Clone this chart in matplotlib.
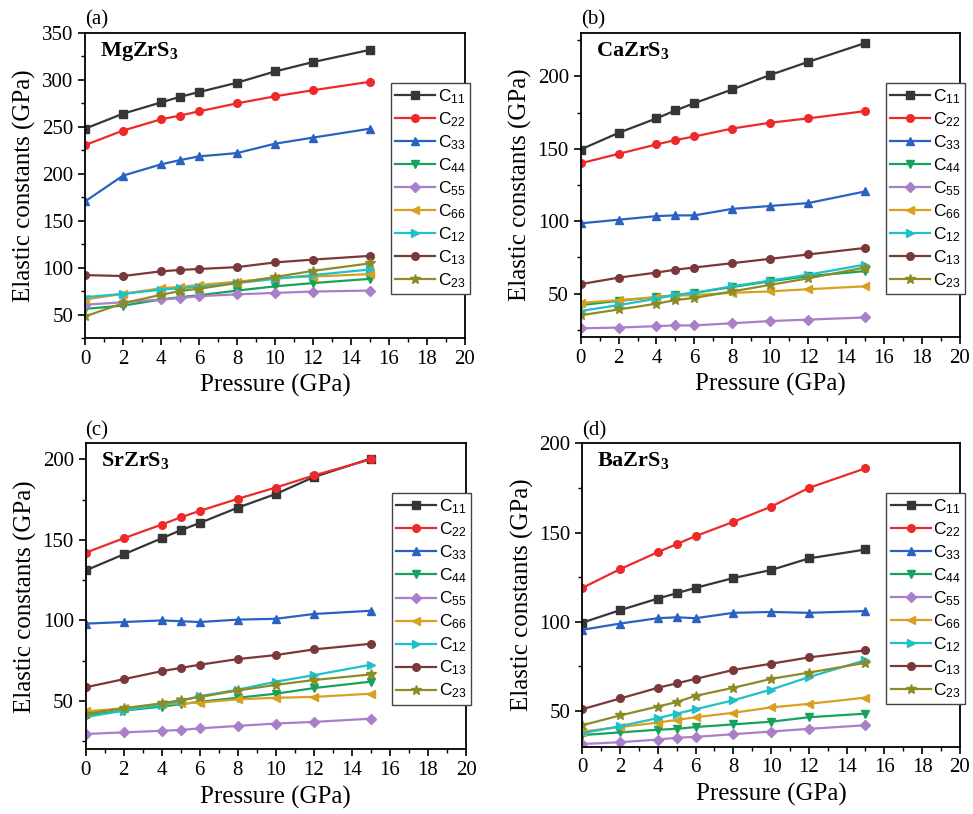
import numpy as np
import matplotlib
matplotlib.use("Agg")
import matplotlib.pyplot as plt
from matplotlib.ticker import MultipleLocator

plt.rcParams['font.family'] = ['Liberation Serif', 'DejaVu Serif']
plt.rcParams['mathtext.fontset'] = 'custom'
plt.rcParams['mathtext.rm'] = 'Liberation Sans'
plt.rcParams['mathtext.it'] = 'Liberation Sans:italic'
plt.rcParams['mathtext.bf'] = 'Liberation Serif:bold'

pressure = [0, 2, 4, 5, 6, 8, 10, 12, 15]
labels = ['C11', 'C22', 'C33', 'C44', 'C55', 'C66', 'C12', 'C13', 'C23']

# MgZrS3
mg = {
    'C11': [248, 264, 276, 282, 287, 297, 309, 319, 332],
    'C22': [230.5, 246, 258, 262, 266.5, 275, 282.5, 289, 298],
    'C33': [170.5, 198, 210, 214.5, 218.5, 222, 232, 238.5, 248],
    'C44': [56, 59.5, 66, 68.5, 70.5, 75.5, 80, 83.5, 88],
    'C55': [60.5, 63, 66, 67.5, 69.5, 71.5, 73, 74.5, 75.5],
    'C66': [66, 72, 78, 79.5, 81.5, 85, 89, 90.5, 93],
    'C12': [68.5, 72, 76.5, 78, 79.5, 83.5, 88, 92, 98],
    'C13': [92, 91, 96, 97.5, 98.5, 100.5, 105.5, 108.5, 112.5],
    'C23': [48, 62, 71, 75, 77.5, 83.5, 90, 96.5, 104.5],
}
# CaZrS3
ca = {
    'C11': [149.5, 161, 171, 176.5, 181.5, 191, 201, 210, 223],
    'C22': [140, 146.5, 153, 156, 158.5, 164, 168, 171, 176],
    'C33': [98.5, 101, 103.5, 104, 104, 108.5, 110.5, 112.5, 120.5],
    'C44': [42, 45, 47.5, 49, 50.5, 54.5, 58.5, 62, 65.5],
    'C55': [26, 26.5, 27.5, 28, 28, 29.5, 31, 32, 33.5],
    'C66': [43.5, 45.5, 47.5, 48.5, 49, 50.5, 51.5, 53, 55],
    'C12': [38, 42, 46.5, 49, 50.5, 55, 59, 63, 70],
    'C13': [56.5, 61, 64.5, 66.5, 68, 71, 74, 77, 81.5],
    'C23': [35, 39, 43, 45.5, 47, 51.5, 56, 60.5, 68],
}
# SrZrS3
sr = {
    'C11': [131, 141, 151, 156, 160.5, 170, 178.5, 189, 200.5],
    'C22': [142, 151, 159.5, 164, 168, 175.5, 182.5, 190, 200],
    'C33': [98, 99, 100, 99.5, 99, 100.5, 101, 104, 106],
    'C44': [41, 44, 46.5, 48, 49.5, 52, 54.5, 58, 62],
    'C55': [29.5, 30.5, 31.5, 32, 33, 34.5, 36, 37, 39],
    'C66': [43.5, 45.5, 48, 48.5, 49, 51, 52, 52.5, 54.5],
    'C12': [40, 44, 47.5, 50, 53, 57, 62, 66, 72.5],
    'C13': [58.5, 63.5, 68.5, 70.5, 72.5, 76, 78.5, 82, 85.5],
    'C23': [42, 45.5, 48.5, 50.5, 52.5, 56.5, 60, 63, 66.5],
}
# BaZrS3
ba = {
    'C11': [99.5, 106.5, 113, 116, 119, 124.5, 129, 135.5, 140.5],
    'C22': [119, 129.5, 139, 143.5, 148, 156, 164.5, 175, 186],
    'C33': [95.5, 99, 102, 102.5, 102, 105, 105.5, 105, 106],
    'C44': [36.5, 38, 39.5, 40, 41, 42.5, 44, 46.5, 48.5],
    'C55': [31.5, 32.5, 34, 35, 35.5, 37, 38.5, 40, 42],
    'C66': [38.5, 41, 43.5, 45, 46.5, 49, 52, 54, 57.5],
    'C12': [37.5, 41.5, 46, 48.5, 51, 56, 62, 69, 78.5],
    'C13': [51, 57, 63, 65.5, 68, 73, 76.5, 80, 84],
    'C23': [42, 47.5, 52.5, 55, 58.5, 63, 68, 71.5, 77],
}

colors = ['#363636', '#ec2a2a', '#2a62c2', '#17a25c', '#a97fc8',
          '#d9a020', '#1fc0c8', '#7b3838', '#8c8c26']
markers = ['s', 'o', '^', 'v', 'D', '<', '>', 'o', '*']

panels = [
    (mg, 'MgZrS$_\\mathbf{3}$', '(a)', (25, 350), [50, 100, 150, 200, 250, 300, 350],
     [0.0874, 0.5848, 0.3905, 0.3747]),
    (ca, 'CaZrS$_\\mathbf{3}$', '(b)', (20, 230), [50, 100, 150, 200],
     [0.5968, 0.5860, 0.3895, 0.3735]),
    (sr, 'SrZrS$_\\mathbf{3}$', '(c)', (20, 210), [50, 100, 150, 200],
     [0.0880, 0.0795, 0.3910, 0.3760]),
    (ba, 'BaZrS$_\\mathbf{3}$', '(d)', (30, 200), [50, 100, 150, 200],
     [0.5985, 0.0827, 0.3880, 0.3727]),
]

fig = plt.figure(figsize=(9.73, 8.14), dpi=100)

for data, title, tag, ylim, yticks, pos in panels:
    ax = fig.add_axes(pos)
    for lab, col, mk in zip(labels, colors, markers):
        ax.plot(pressure, data[lab], color=col, marker=mk,
                markersize=5.5 if mk != '*' else 7.5,
                linewidth=1.6, label='C$_{' + lab[1:] + '}$')
    ax.set_xlim(0, 20)
    ax.set_ylim(*ylim)
    ax.set_xticks(range(0, 21, 2))
    ax.set_yticks(yticks)
    ax.xaxis.set_minor_locator(MultipleLocator(1))
    ax.yaxis.set_minor_locator(MultipleLocator(25))
    ax.tick_params(which='major', direction='out', length=5, width=1.2, labelsize=15)
    ax.tick_params(which='minor', direction='out', length=3, width=1.0)
    for s in ax.spines.values():
        s.set_linewidth(1.3)
    ax.set_xlabel('Pressure (GPa)', fontsize=18, labelpad=4)
    ax.set_ylabel('Elastic constants (GPa)', fontsize=18, labelpad=4)
    ax.text(0.04, 0.94, title, transform=ax.transAxes, fontsize=16,
            fontweight='bold', va='center', ha='left')
    ax.text(0.0, 1.01, tag, transform=ax.transAxes, fontsize=15,
            va='bottom', ha='left')
    leg = ax.legend(loc='upper left', bbox_to_anchor=(0.805, 0.837), borderaxespad=0,
                    fancybox=False, framealpha=1, edgecolor='#444444',
                    prop={'family': 'Liberation Sans', 'size': 12.5},
                    handlelength=2.3, handletextpad=0.15, labelspacing=0.25,
                    borderpad=0.25)
    leg.get_frame().set_linewidth(1.0)

fig.savefig('out.png', dpi=100)
